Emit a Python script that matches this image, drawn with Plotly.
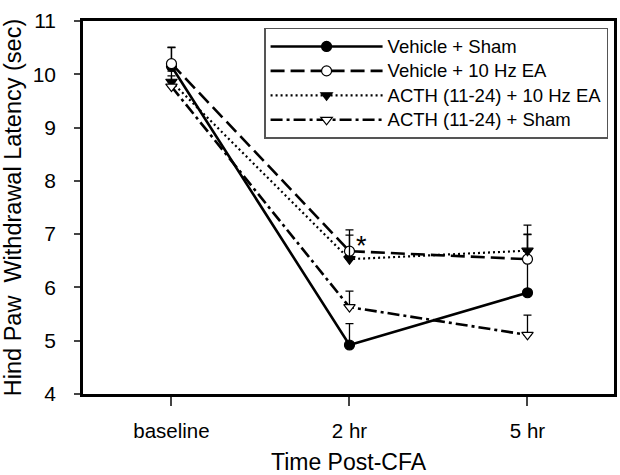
import plotly.graph_objects as go

categories = ["baseline", "2 hr", "5 hr"]
xpos = [0, 1, 2]

names = ["Vehicle + Sham", "Vehicle + 10 Hz EA", "ACTH (11-24) + 10 Hz EA", "ACTH (11-24) + Sham"]
veh_sham = [10.15, 4.92, 5.90]
veh_sham_err = [0.36, 0.40, 1.27]
veh_ea = [10.20, 6.68, 6.53]
veh_ea_err = [0.30, 0.40, 0.47]
acth_ea = [9.86, 6.53, 6.69]
acth_ea_err = [0.20, 0.45, 0.30]
acth_sham = [9.77, 5.63, 5.11]
acth_sham_err = [0.20, 0.30, 0.37]

yticks = [4, 5, 6, 7, 8, 9, 10, 11]

FONT = "Arial, Liberation Sans, sans-serif"

styles = [
    dict(dash="solid", symbol="circle", fill="black", width=2.6),
    dict(dash="14px,6px", symbol="circle", fill="white", width=2.6),
    dict(dash="2px,3px", symbol="triangle-down", fill="black", width=2.2),
    dict(dash="12px,4px,3px,4px", symbol="triangle-down", fill="white", width=2.6),
]
series = [veh_sham, veh_ea, acth_ea, acth_sham]
errs = [veh_sham_err, veh_ea_err, acth_ea_err, acth_sham_err]

fig = go.Figure()
for name, ys, er, st in zip(names, series, errs, styles):
    fig.add_trace(go.Scatter(
        x=xpos, y=ys, name='<span style="font-size:18.5px">' + name + '</span>',
        mode="lines+markers",
        line=dict(color="black", width=st["width"], dash=st["dash"]),
        marker=dict(symbol=st["symbol"], size=10, color=st["fill"],
                    line=dict(color="black", width=1.2)),
        error_y=dict(type="data", array=er, arrayminus=[0] * len(er), symmetric=False,
                     color="black", thickness=1.3, width=4),
    ))

fig.add_annotation(x=1, y=6.77, text="*", showarrow=False, xshift=12,
                   font=dict(family=FONT, size=27, color="black"))

fig.update_layout(
    width=620, height=475,
    margin=dict(l=83, r=3, t=21, b=77),
    paper_bgcolor="white", plot_bgcolor="white",
    font=dict(family=FONT, color="black"),
    showlegend=True,
    legend=dict(x=0.341, y=0.982, xanchor="left", yanchor="top",
                bordercolor="#555", borderwidth=1.5, bgcolor="white",
                font=dict(family=FONT, size=16.5, color="black"),
                itemwidth=112, tracegroupgap=0),
    xaxis=dict(range=[-0.497, 2.486], tickvals=xpos, ticktext=categories,
               showgrid=False, zeroline=False, showline=True, linecolor="black",
               linewidth=2.5, mirror=True, ticks="outside", ticklen=9, tickwidth=1.5,
               tickcolor="#444", ticklabelstandoff=8,
               tickfont=dict(family=FONT, size=20.5, color="black"),
               title=dict(text="Time Post-CFA", font=dict(family=FONT, size=23, color="black"),
                          standoff=14)),
    yaxis=dict(range=[4, 11], tickvals=yticks, showgrid=False, zeroline=False,
               showline=True, linecolor="black", linewidth=2.5, mirror=True,
               ticks="outside", ticklen=6, tickwidth=1.5, tickcolor="#444",
               ticklabelstandoff=14,
               tickfont=dict(family=FONT, size=21, color="black"),
               title=dict(text="Hind Paw  Withdrawal Latency (sec)",
                          font=dict(family=FONT, size=23.5, color="black"), standoff=7)),
)

fig.write_html("out.html")
